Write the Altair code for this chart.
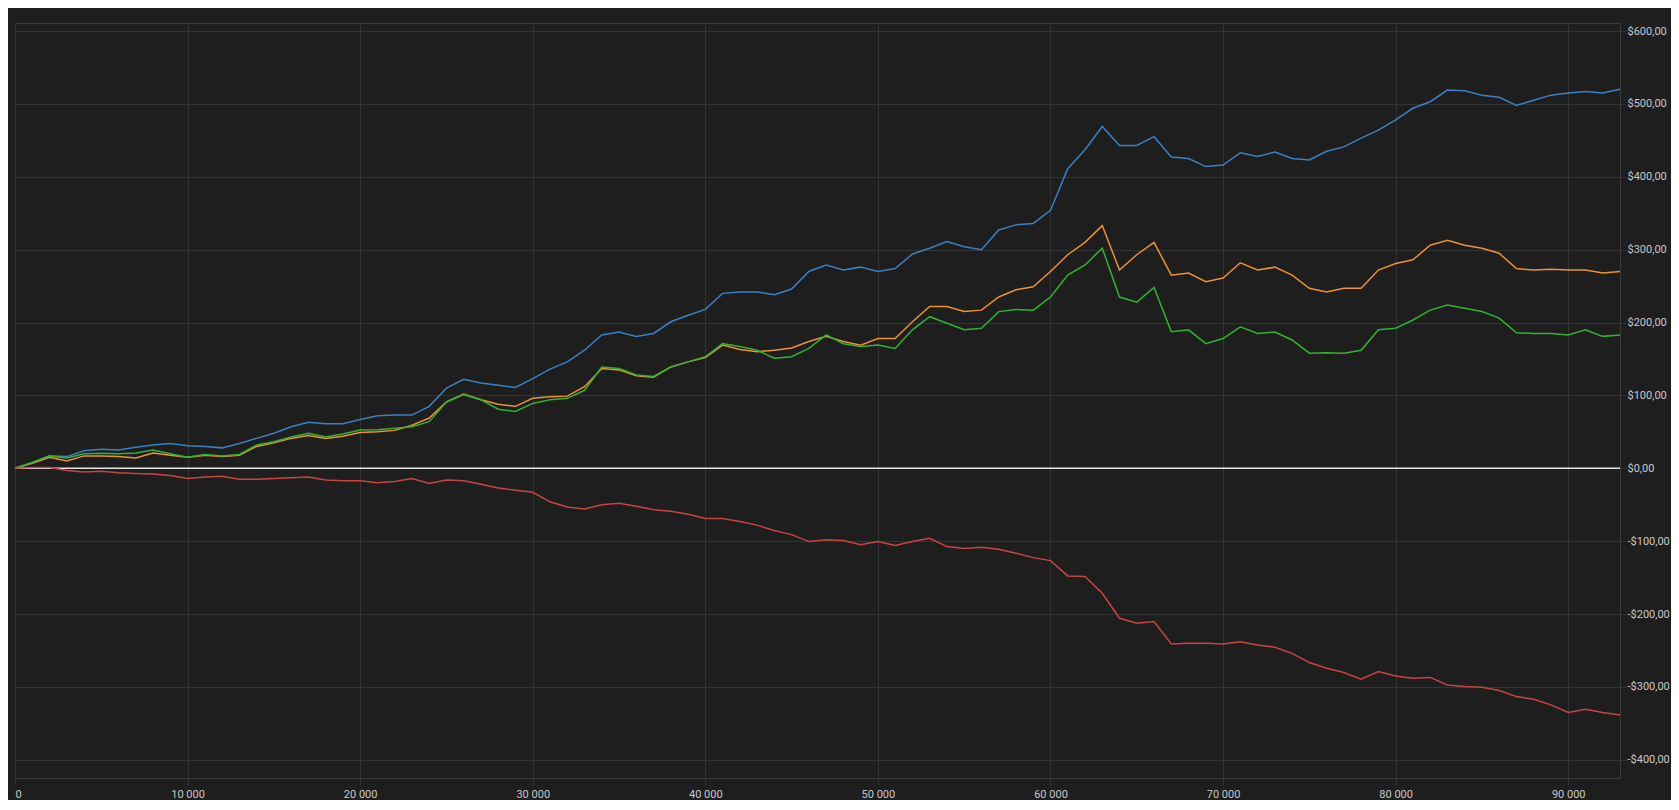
import altair as alt
import pandas as pd

# x positions (trade count), one sample every 1000
X_VALUES = [k * 1000 for k in range(94)]

BLUE = [0, 8, 17, 16, 24, 26, 25, 29, 32, 34, 31, 30, 28, 34, 41, 48, 57, 63, 61, 61, 67, 72, 73,
        73, 85, 110, 122, 117, 114, 111, 123, 136, 146, 162, 183, 187, 181, 185, 201, 210, 218, 240, 242, 242, 238, 246,
        270, 279, 272, 276, 270, 274, 294, 302, 311, 304, 300, 327, 334, 336, 354, 411, 437, 469, 443, 443, 455, 427, 425,
        414, 416, 433, 428, 434, 425, 423, 435, 441, 453, 464, 478, 494, 503, 519, 518, 512, 509, 498, 505, 512, 515, 517, 515, 520]

ORANGE = [0, 7, 15, 10, 17, 17, 16, 14, 21, 18, 15, 18, 16, 18, 30, 35, 41, 45, 41, 44, 49, 50, 52,
          59, 69, 91, 102, 94, 88, 85, 96, 98, 99, 112, 137, 135, 127, 125, 139, 146, 152, 169, 163, 160, 162, 165,
          174, 181, 174, 169, 178, 178, 201, 222, 222, 215, 217, 235, 245, 249, 270, 293, 310, 333, 272, 293, 310, 265, 268,
          256, 261, 282, 272, 276, 265, 247, 242, 247, 247, 272, 281, 286, 306, 313, 306, 302, 295, 274, 272, 273, 272, 272, 268, 270]

GREEN = [0, 8, 17, 14, 20, 20.5, 20, 21, 25, 20, 15, 19, 17, 19, 32, 36.5, 43, 48, 43, 47, 52.5, 53, 55,
         57, 64, 91, 101, 94, 81, 78, 89, 94, 96, 107, 139, 137, 128, 126, 139, 146, 153, 171, 167, 162, 151, 153,
         164.5, 183, 171, 167, 169, 164.5, 190, 208, 199, 190, 192, 215, 218, 217, 235, 265, 279, 302, 235, 228, 248, 187.5, 190,
         171, 178, 194, 185, 187, 176, 158, 158.5, 158, 162, 190, 192, 203.5, 217, 224, 219.5, 215, 206, 186, 185, 185, 183, 190, 181, 183]

RED = [0, 1, 1, -3, -5, -4, -6, -7, -8, -10, -14, -12, -11, -15, -15, -14, -13, -12, -16, -17, -17, -20, -18,
       -14, -21, -16, -17, -22, -27, -30, -33, -46, -53, -56, -50, -48, -52, -57, -59, -63, -69, -69, -73, -78, -85.5, -91,
       -100.6, -98, -99, -105, -100.6, -106, -100.6, -96, -107.5, -110, -108.4, -111, -116.6, -122.6, -126.7, -147.7, -148.6, -171.5, -205.8, -212.7, -210.4, -241, -240,
       -240, -241, -238, -242.4, -245.6, -254, -266.6, -274.4, -280.3, -289.4, -279, -285, -288, -287, -297.3, -299.6, -300.5, -305, -313.3, -317, -324.7, -335.2, -330.6, -335.2, -338.4]

X_TICKS = [0, 10000, 20000, 30000, 40000, 50000, 60000, 70000, 80000, 90000]
Y_TICKS = [-400, -300, -200, -100, 0, 100, 200, 300, 400, 500, 600]
ZERO_X = [0, 93000]
ZERO_Y = [0, 0]

xscale = alt.Scale(domain=[0, 93000], nice=False, zero=False)
yscale = alt.Scale(domain=[-425, 611], nice=False, zero=False)

xaxis = alt.Axis(values=X_TICKS, labelExpr="replace(format(datum.value, ','), ',', ' ')",
                 grid=True, tickSize=7, domain=False, title=None, labelPadding=3)
yaxis = alt.Axis(values=Y_TICKS, orient="right",
                 labelExpr="(datum.value < 0 ? '-' : '') + '$' + replace(format(abs(datum.value), '.2f'), '.', ',')",
                 grid=True, tickSize=6, domain=False, title=None, labelPadding=1)


def layer(xv, yv, color, width):
    df = pd.DataFrame({"x": xv, "y": yv})
    return alt.Chart(df).mark_line(color=color, strokeWidth=width, interpolate="linear").encode(
        x=alt.X("x:Q", scale=xscale, axis=xaxis),
        y=alt.Y("y:Q", scale=yscale, axis=yaxis),
    )


chart = alt.layer(
    layer(ZERO_X, ZERO_Y, "#e4e4e4", 1.5),
    layer(X_VALUES, BLUE, "#3b80c4", 1.5),
    layer(X_VALUES, ORANGE, "#ee922f", 1.5),
    layer(X_VALUES, GREEN, "#31b331", 1.5),
    layer(X_VALUES, RED, "#c84444", 1.5),
).properties(
    width=1605,
    height=755,
    autosize=alt.AutoSizeParams(type="none"),
    padding={"left": 7, "top": 15, "right": 51, "bottom": 22},
    background="#1e1e1e",
).configure_view(
    stroke="#3c3c3c", strokeWidth=1
).configure_axis(
    gridColor="#333333", gridWidth=1, tickColor="#333333", tickWidth=1,
    labelColor="#c8c8c8", labelFont="Roboto", labelFontSize=11,
)

chart.save("out.html", embed_options={"renderer": "svg", "actions": False})
